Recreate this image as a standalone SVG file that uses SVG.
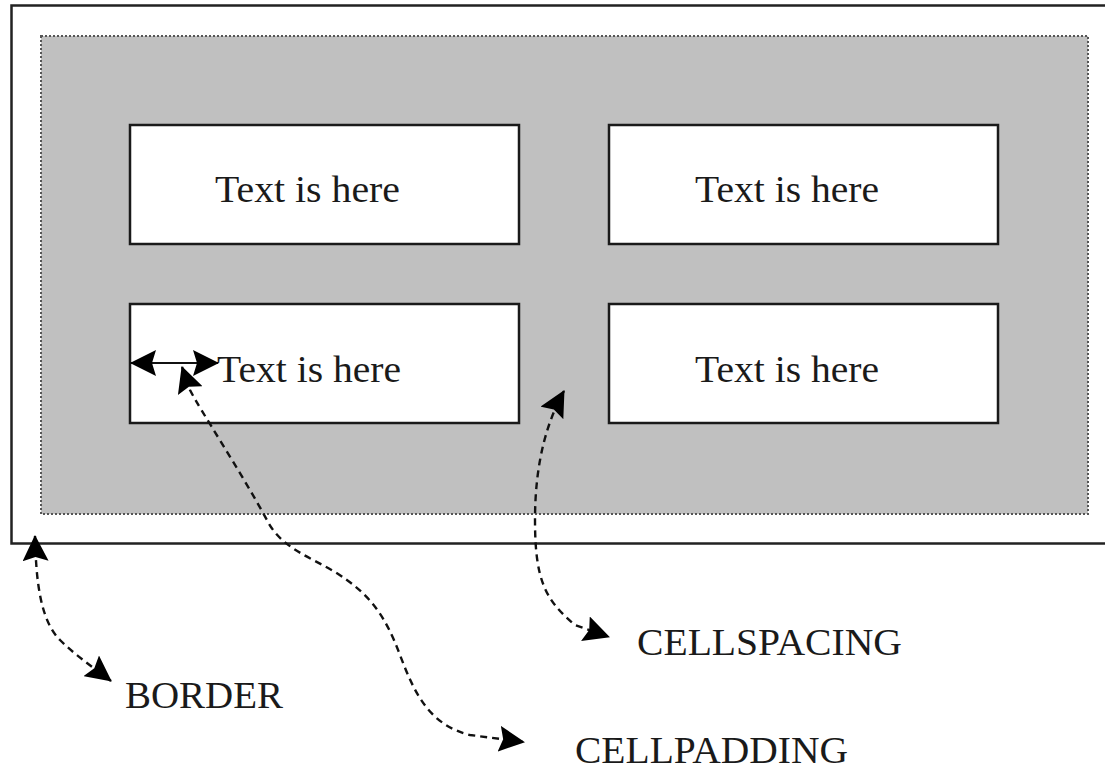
<svg xmlns="http://www.w3.org/2000/svg" width="1105" height="772" viewBox="0 0 1105 772">
  <style>
    .cell { fill: #ffffff; stroke: #1a1a1a; stroke-width: 2.5; }
    .label { font-family: "Liberation Serif", "Times New Roman", serif; font-size: 38px; fill: #1a1a1a; }
    .dash { fill: none; stroke: #111111; stroke-width: 2.4; stroke-dasharray: 7 5; marker-start: url(#head); marker-end: url(#head); }
    .solid { fill: none; stroke: #111111; stroke-width: 2.2; marker-start: url(#head); marker-end: url(#head); }
  </style>
  <defs>
    <marker id="head" viewBox="0 0 26 26" refX="25" refY="13" markerWidth="26" markerHeight="26" markerUnits="userSpaceOnUse" orient="auto-start-reverse">
      <path d="M0,0 L26,13 L0,26 L4,13 z" fill="#000000"/>
    </marker>
  </defs>

  <rect width="1105" height="772" fill="#ffffff"/>

  <!-- table border -->
  <g id="table">
    <rect x="11.5" y="5.5" width="1110" height="538" fill="#ffffff" stroke="#222222" stroke-width="2.5"/>
    <rect x="41" y="36" width="1047" height="478" fill="#c0c0c0" stroke="#555555" stroke-width="2" stroke-dasharray="2 2"/>
  </g>

  <g id="cell-1">
    <rect class="cell" x="130" y="125" width="389" height="119"/>
    <text class="label" x="215" y="202" textLength="185" lengthAdjust="spacingAndGlyphs">Text is here</text>
  </g>
  <g id="cell-2">
    <rect class="cell" x="609" y="125" width="389" height="119"/>
    <text class="label" x="695" y="202" textLength="184" lengthAdjust="spacingAndGlyphs">Text is here</text>
  </g>
  <g id="cell-3">
    <rect class="cell" x="130" y="304" width="389" height="119"/>
    <text class="label" x="217" y="382" textLength="184" lengthAdjust="spacingAndGlyphs">Text is here</text>
  </g>
  <g id="cell-4">
    <rect class="cell" x="609" y="304" width="389" height="119"/>
    <text class="label" x="695" y="382" textLength="184" lengthAdjust="spacingAndGlyphs">Text is here</text>
  </g>

  <g id="label-border">
    <text class="label" x="125" y="708" textLength="158" lengthAdjust="spacingAndGlyphs">BORDER</text>
  </g>
  <g id="label-cellspacing">
    <text class="label" x="637" y="655" textLength="265" lengthAdjust="spacingAndGlyphs">CELLSPACING</text>
  </g>
  <g id="label-cellpadding">
    <text class="label" x="575" y="763" textLength="273" lengthAdjust="spacingAndGlyphs">CELLPADDING</text>
  </g>

  <g id="connectors">
    <path class="solid" d="M131,363 L218,363"/>
    <path class="dash" d="M182,367 L190,390 C200,410 240,470 268,522 C282,548 310,557 335,572 C370,594 385,615 400,655 C415,695 430,725 470,735 L524,742"/>
    <path class="dash" d="M564,391 C548,420 535,460 535,520 C535,580 545,600 575,625 L609,637"/>
    <path class="dash" d="M35,536 C36,580 40,620 60,640 C75,655 90,665 111,681"/>
  </g>
</svg>
